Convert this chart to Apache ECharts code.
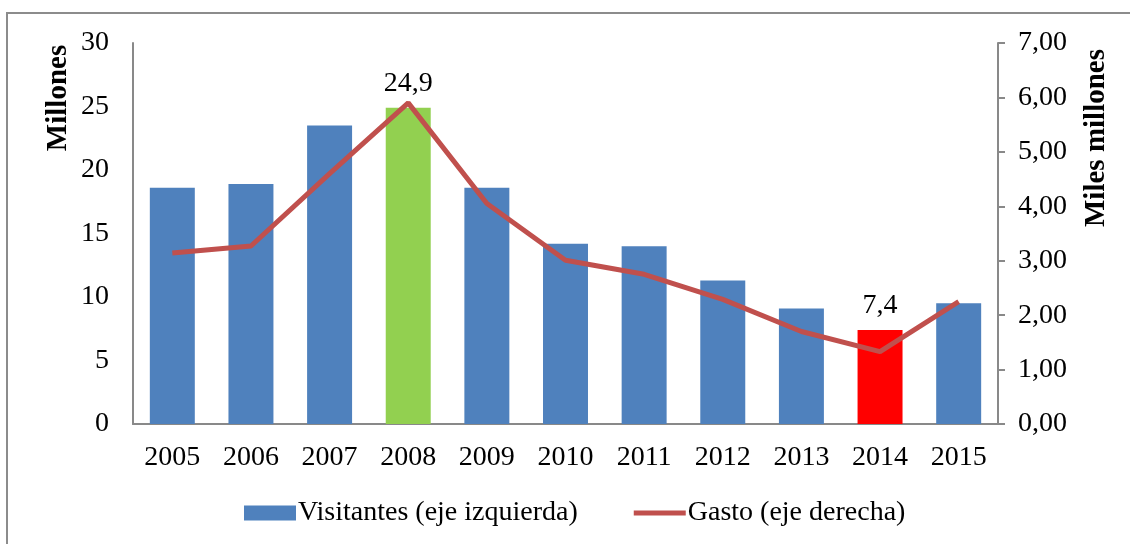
<!DOCTYPE html>
<html>
<head>
<meta charset="utf-8">
<script src="https://cdn.jsdelivr.net/npm/echarts@6/dist/echarts.min.js"></script>
<style>
  html, body { margin: 0; padding: 0; background: #fff; }
  #chart { width: 1130px; height: 544px; }
</style>
</head>
<body>
<div id="chart"></div>
<script>
// datos
const years = ['2005', '2006', '2007', '2008', '2009', '2010', '2011', '2012', '2013', '2014', '2015'];
const visitantes = [18.6, 18.9, 23.5, 24.9, 18.6, 14.2, 14.0, 11.3, 9.1, 7.4, 9.5];
const gasto = [3.14, 3.27, 4.6, 5.9, 4.05, 3.01, 2.75, 2.29, 1.7, 1.33, 2.25];
const leftTicks = [0, 5, 10, 15, 20, 25, 30];
const rightTicks = [0, 1, 2, 3, 4, 5, 6, 7];
const highlighted = { '2008': '#92D050', '2014': '#FF0000' };

const FONT = '"Liberation Serif", "DejaVu Serif", serif';
const comma = (v, d) => Number(v).toFixed(d).replace('.', ',');

const chart = echarts.init(document.getElementById('chart'));

const barData = visitantes.map((v, i) => {
  const c = highlighted[years[i]];
  if (!c) return v;
  return {
    value: v,
    itemStyle: { color: c },
    label: {
      show: true,
      position: 'top',
      distance: 10,
      formatter: (p) => comma(p.value, 1),
      color: '#000',
      fontFamily: FONT,
      fontSize: 28
    }
  };
});

const axisTitle = (text, x, y) => ({
  type: 'text',
  x: x,
  y: y,
  rotation: Math.PI / 2,
  silent: true,
  style: {
    text: text,
    fill: '#000',
    font: 'bold 29px ' + FONT,
    textAlign: 'center',
    textVerticalAlign: 'middle'
  }
});

const option = {
  animation: false,
  graphic: [
    {
      type: 'rect',
      shape: { x: 7, y: 13, width: 1140, height: 560 },
      style: { fill: 'none', stroke: '#8c8c8c', lineWidth: 2 },
      silent: true
    },
    axisTitle('Millones', 59, 98),
    axisTitle('Miles millones', 1097, 138)
  ],
  legend: {
    bottom: 12,
    left: 239,
    itemWidth: 52,
    itemHeight: 15,
    itemGap: 56,
    textStyle: { fontFamily: FONT, fontSize: 28, color: '#000', padding: [0, 0, 0, -3] },
    data: [
      { name: 'Visitantes (eje izquierda)', icon: 'rect' },
      { name: 'Gasto (eje derecha)', icon: 'path://M0,0 L52,0 L52,5 L0,5 Z' }
    ]
  },
  grid: { left: 133, right: 132, top: 43, bottom: 120 },
  xAxis: {
    type: 'category',
    data: years,
    axisLine: { lineStyle: { color: '#898989', width: 2 } },
    axisTick: { show: false },
    axisLabel: { color: '#000', fontFamily: FONT, fontSize: 28, margin: 20 }
  },
  yAxis: [
    {
      type: 'value',
      min: 0,
      max: 30,
      interval: 5,
      axisLine: { show: true, lineStyle: { color: '#898989', width: 2 } },
      axisTick: { show: false },
      splitLine: { show: false },
      axisLabel: {
        color: '#000', fontFamily: FONT, fontSize: 28, margin: 24,
        formatter: (v) => leftTicks.includes(v) ? String(v) : ''
      }
    },
    {
      type: 'value',
      min: 0,
      max: 7,
      interval: 1,
      position: 'right',
      axisLine: { show: true, lineStyle: { color: '#898989', width: 2 } },
      axisTick: { show: true, length: 7, lineStyle: { color: '#898989', width: 2 } },
      splitLine: { show: false },
      axisLabel: {
        color: '#000', fontFamily: FONT, fontSize: 28, margin: 20,
        formatter: (v) => rightTicks.includes(v) ? comma(v, 2) : ''
      }
    }
  ],
  series: [
    {
      name: 'Visitantes (eje izquierda)',
      type: 'bar',
      yAxisIndex: 0,
      barCategoryGap: '42.8%',
      itemStyle: { color: '#4F81BD' },
      data: barData
    },
    {
      name: 'Gasto (eje derecha)',
      type: 'line',
      yAxisIndex: 1,
      symbol: 'none',
      itemStyle: { color: '#C0504D' },
      lineStyle: { color: '#C0504D', width: 5 },
      data: gasto
    }
  ]
};

chart.setOption(option);
window.addEventListener('resize', () => chart.resize());
</script>
</body>
</html>
